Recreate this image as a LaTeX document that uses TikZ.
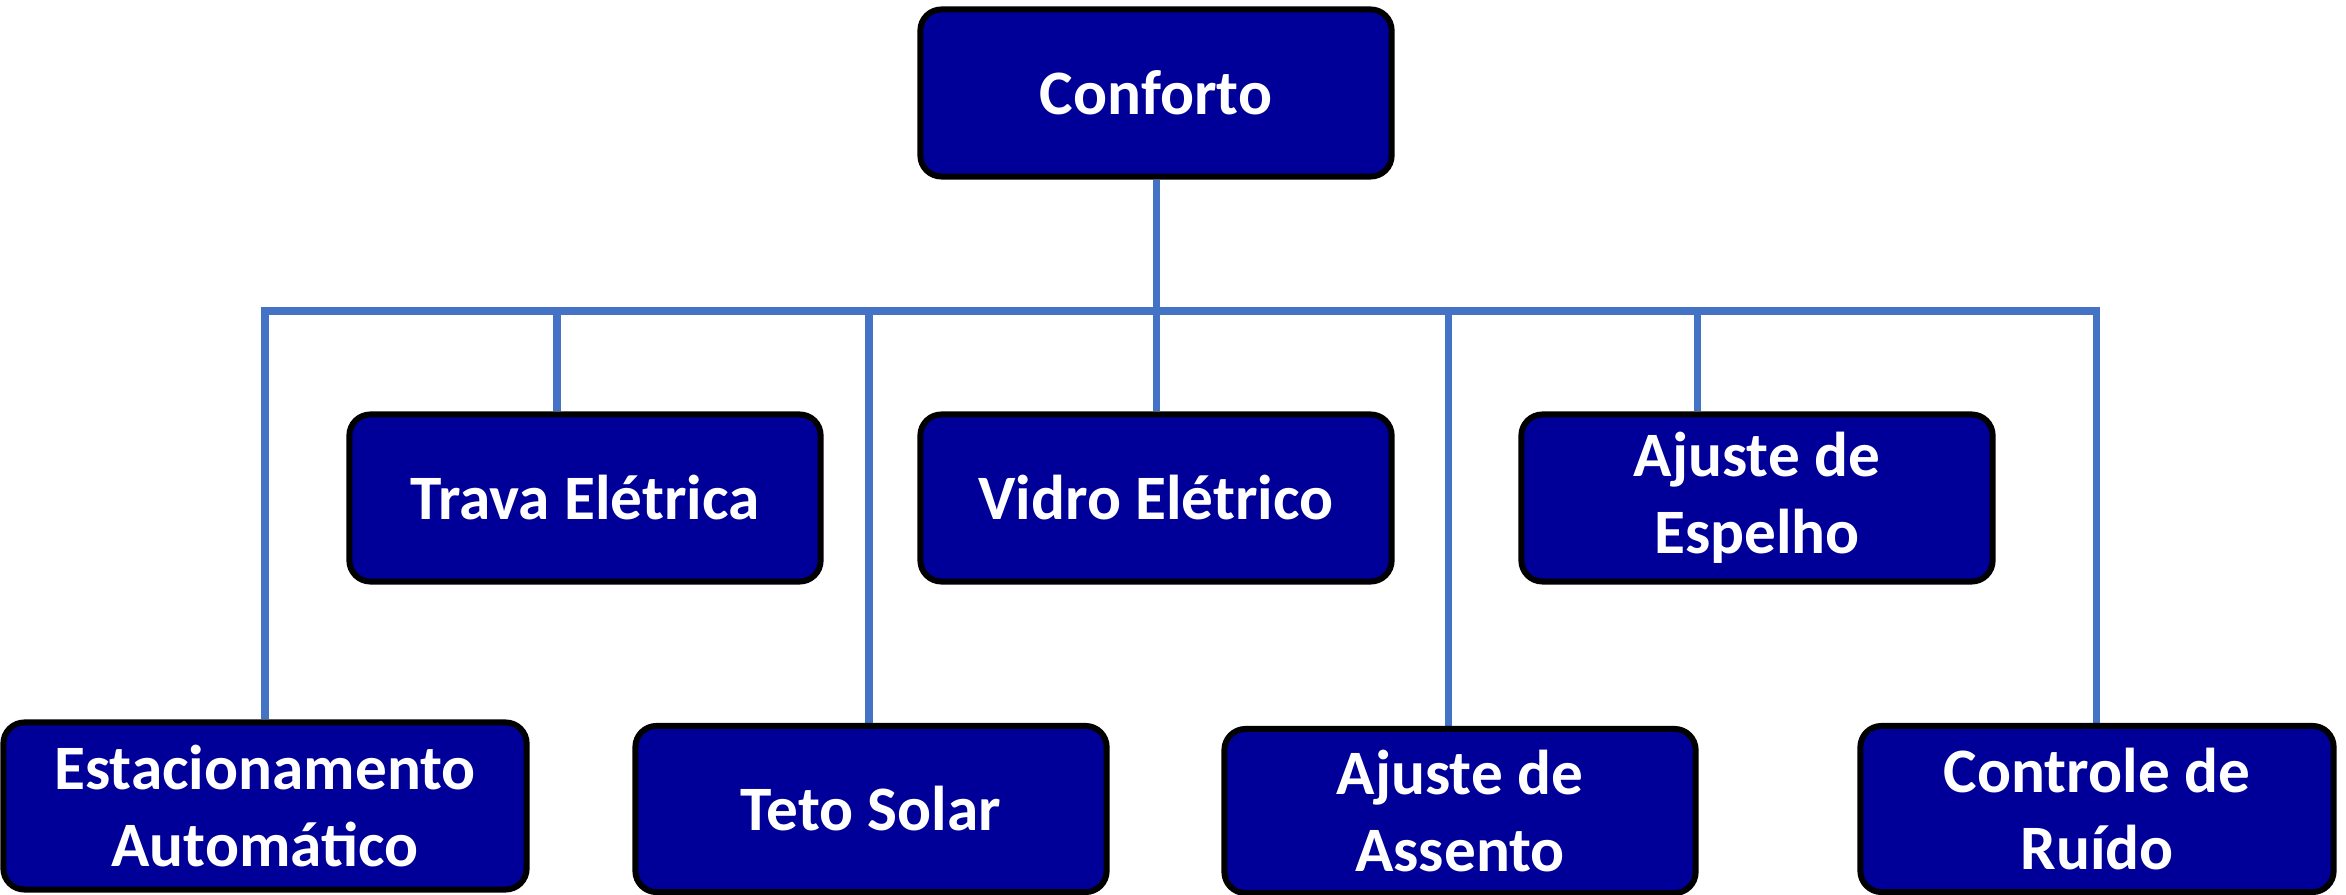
\documentclass[tikz,border=0pt]{standalone}
\usepackage{fontspec}
\setmainfont{Carlito}
\definecolor{boxfill}{RGB}{0,0,153}
\definecolor{linkblue}{RGB}{68,114,196}
\pgfdeclarelayer{bg}
\pgfsetlayers{bg,main}
\begin{document}
\begin{tikzpicture}[x=0.01cm,y=-0.01cm,
  box/.style={draw=black, line width=1.7pt, fill=boxfill, rounded corners=6pt,
    text=white, font=\fontsize{18}{22}\selectfont\bfseries, align=center,
    inner sep=0pt, minimum height=1.67cm, minimum width=4.71cm},
  link/.style={draw=linkblue, line width=2pt, line join=miter}]
\useasboundingbox (0,0) rectangle (2346,895);

\node[box] (conf) at (1156,93) {Conforto};
\node[box] (trava) at (585,498) {Trava Elétrica};
\node[box] (vidro) at (1156,498) {Vidro Elétrico};
\node[box] (espelho) at (1757,498) {Ajuste de\\Espelho};
\node[box, minimum width=5.23cm] (estac) at (265,806) {Estacionamento\\Automático};
\node[box, minimum height=1.66cm] (teto) at (871,809) {Teto Solar};
\node[box, minimum height=1.64cm] (assento) at (1460,811) {Ajuste de\\Assento};
\node[box, minimum width=4.73cm, minimum height=1.66cm] (ruido) at (2097,809) {Controle de\\Ruído};

\coordinate (bl) at (265,311);
\coordinate (br) at (2096,311);
\coordinate (s2) at (557,311);
\coordinate (s3) at (869,311);
\coordinate (s4) at (1156,311);
\coordinate (s5) at (1448,311);
\coordinate (s6) at (1697,311);

\begin{pgfonlayer}{bg}
  \draw[link] (estac.north -| bl) -- (bl) -- (br) -- (ruido.north -| br);
  \draw[link] (conf.south) -- (s4);
  \draw[link] (s2) -- (trava.north -| s2);
  \draw[link] (s3) -- (teto.north -| s3);
  \draw[link] (s4) -- (vidro.north);
  \draw[link] (s5) -- (assento.north -| s5);
  \draw[link] (s6) -- (espelho.north -| s6);
\end{pgfonlayer}
\end{tikzpicture}
\end{document}
